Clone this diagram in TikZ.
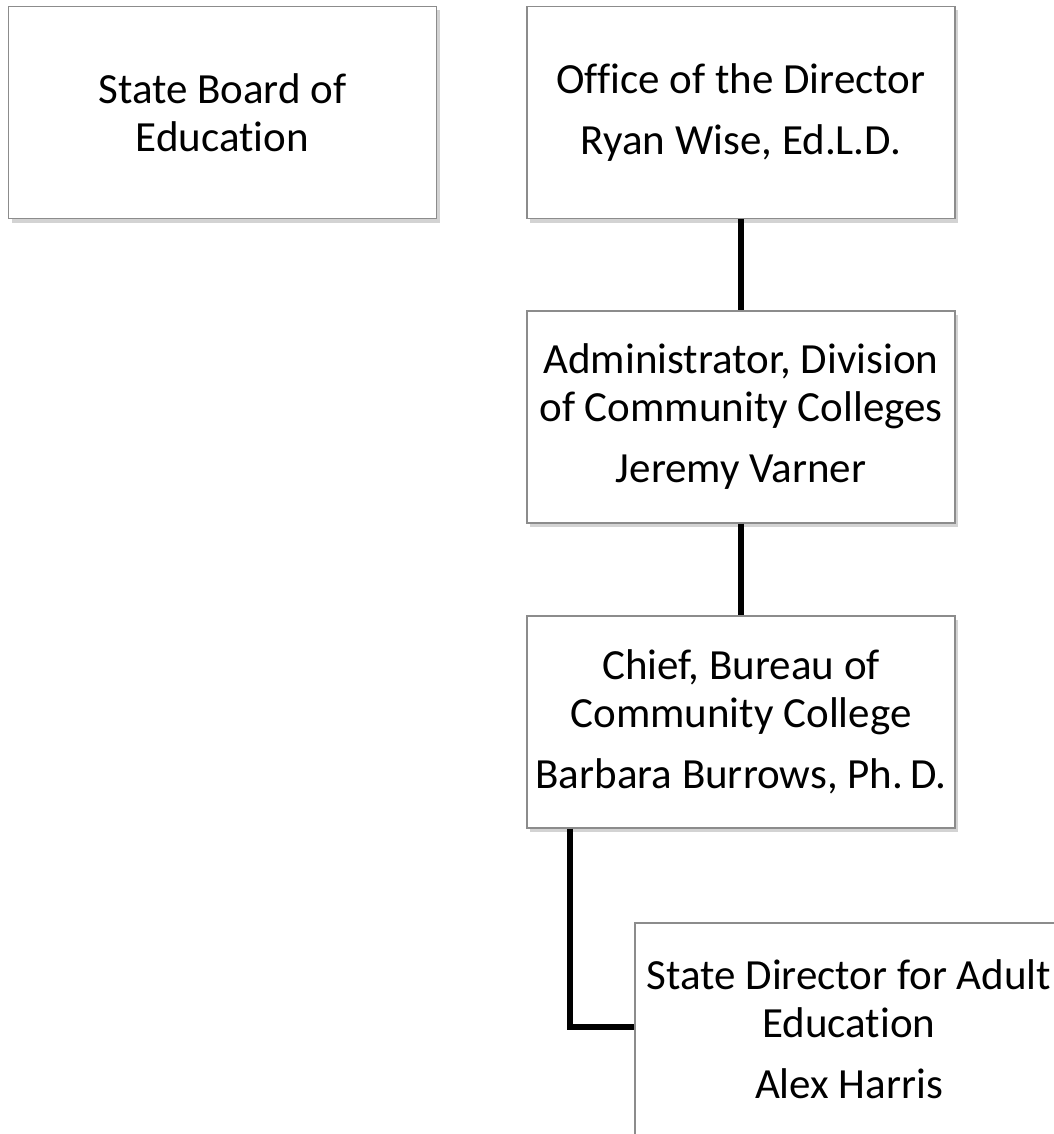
\documentclass[tikz,border=0pt]{standalone}
\usepackage{fontspec}
\setmainfont{Carlito}[Ligatures=NoCommon]
\usetikzlibrary{shadows}

\tikzset{
  orgbox/.style={rectangle, draw=black!45, line width=1.2pt, fill=white,
    minimum width=428pt, minimum height=212pt, inner sep=0pt, align=center,
    font=\fontsize{43}{48}\selectfont,
    drop shadow={shadow xshift=3pt, shadow yshift=-4pt, opacity=0.35}},
  link/.style={line width=6pt}
}

\begin{document}
\begin{tikzpicture}[x=1pt,y=-1pt]
			%%%%% START %%%%%
			\useasboundingbox (0,0) rectangle (1053,1134);
			
			\node[orgbox] (board) at (222.5, 112.5) {State Board of\\Education};
			\node[orgbox] (office) at (741, 112.5) {Office of the Director\\[13pt]Ryan Wise, Ed.L.D.};
			\node[orgbox] (admin) at (741, 417) {Administrator, Division\\of Community Colleges\\[13pt]Jeremy Varner};
			\node[orgbox] (chief) at (741, 722) {Chief, Bureau of\\Community College\\[13pt]Barbara Burrows, Ph.\,D.};
			\node[orgbox] (adult) at (849, 1029) {State Director for Adult\\Education\\[13pt]Alex Harris};
			
			\coordinate (bend) at (570, 1027);
			
			\draw[link] (office) -- (admin);
			\draw[link] (admin) -- (chief);
			\draw[link] (chief.south -| bend) -- (bend) -- (adult.west |- bend);
			
			%%%%% END %%%%%
\end{tikzpicture}
\end{document}
